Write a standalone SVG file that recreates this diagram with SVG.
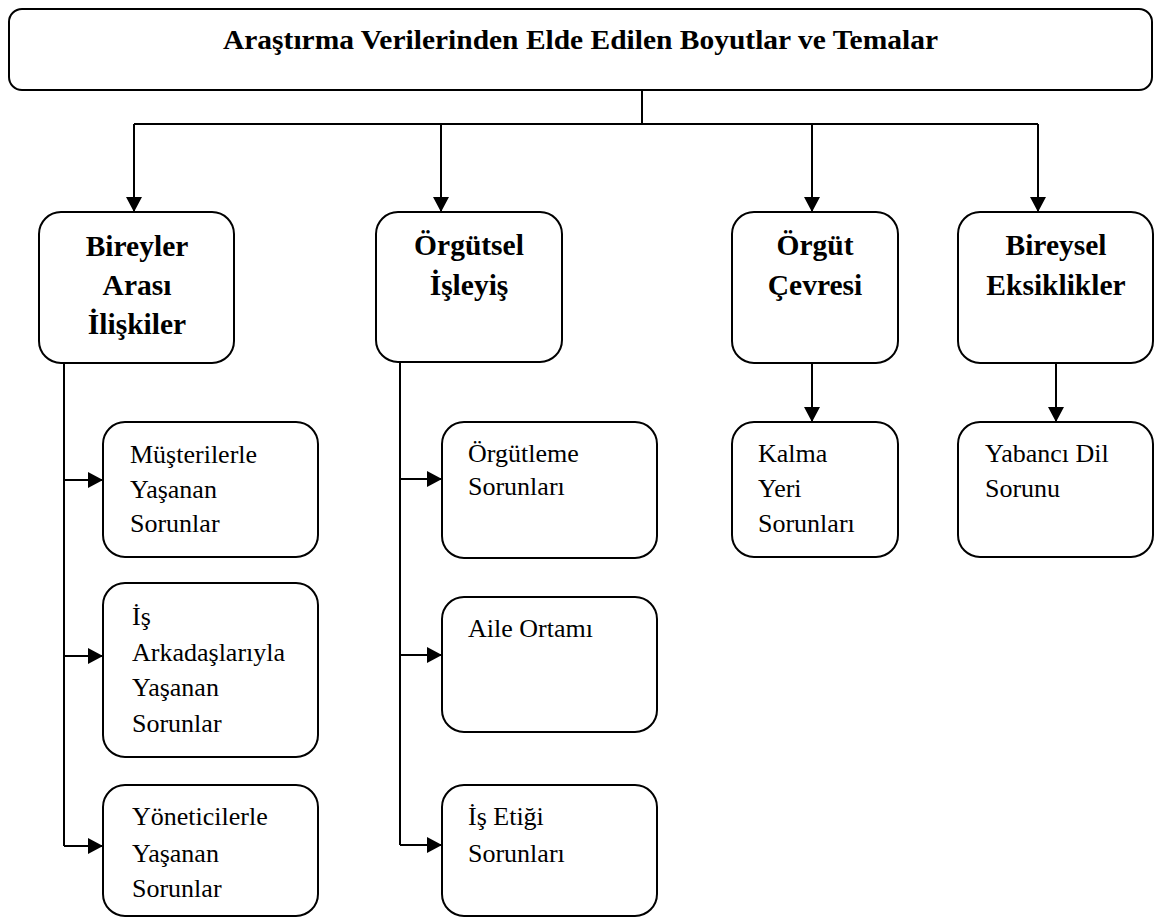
<svg xmlns="http://www.w3.org/2000/svg" width="1156" height="918" viewBox="0 0 1156 918">
  <style>
    .box { fill: #ffffff; stroke: #000000; stroke-width: 2; }
    .wire { fill: none; stroke: #000000; stroke-width: 2; }
    .title { font-weight: bold; font-size: 28px; }
    .head { font-weight: bold; font-size: 29.5px; text-anchor: middle; }
    .item { font-size: 26px; }
  </style>
  <defs>
    <marker id="arrow" markerUnits="userSpaceOnUse" markerWidth="15" markerHeight="16" refX="15" refY="8" orient="auto">
      <path d="M0,0 L15,8 L0,16 Z" fill="#000"/>
    </marker>
  </defs>
  <rect width="1156" height="918" fill="#ffffff"/>

  <!-- connectors -->
  <g id="connectors" class="wire">
    <path d="M642,90 V124"/>
    <path d="M134,124 H1038"/>
    <path d="M134,124 V212" marker-end="url(#arrow)"/>
    <path d="M441,124 V212" marker-end="url(#arrow)"/>
    <path d="M812,124 V212" marker-end="url(#arrow)"/>
    <path d="M1038,124 V212" marker-end="url(#arrow)"/>

    <path d="M64,363 V846"/>
    <path d="M64,480 H103" marker-end="url(#arrow)"/>
    <path d="M64,656 H103" marker-end="url(#arrow)"/>
    <path d="M64,846 H103" marker-end="url(#arrow)"/>

    <path d="M400,362 V845"/>
    <path d="M400,479 H442" marker-end="url(#arrow)"/>
    <path d="M400,655 H442" marker-end="url(#arrow)"/>
    <path d="M400,845 H442" marker-end="url(#arrow)"/>

    <path d="M812,363 V422" marker-end="url(#arrow)"/>
    <path d="M1056,363 V422" marker-end="url(#arrow)"/>
  </g>

  <g font-family="Liberation Serif, Times New Roman, serif" fill="#000">
  <!-- root -->
  <g id="root">
    <rect class="box" x="9" y="9" width="1143" height="81" rx="13"/>
    <text class="title" x="223" y="49" textLength="715" lengthAdjust="spacingAndGlyphs">Araştırma Verilerinden Elde Edilen Boyutlar ve Temalar</text>
  </g>

  <!-- dimensions -->
  <g id="dim-bireyler-arasi">
    <rect class="box" x="39" y="212" width="195" height="151" rx="22"/>
    <text class="head" x="137" y="256">Bireyler</text>
    <text class="head" x="137" y="295">Arası</text>
    <text class="head" x="137" y="334">İlişkiler</text>
  </g>
  <g id="dim-orgutsel-isleyis">
    <rect class="box" x="376" y="212" width="186" height="150" rx="22"/>
    <text class="head" x="469" y="255">Örgütsel</text>
    <text class="head" x="469" y="295">İşleyiş</text>
  </g>
  <g id="dim-orgut-cevresi">
    <rect class="box" x="732" y="212" width="166" height="151" rx="22"/>
    <text class="head" x="815" y="255">Örgüt</text>
    <text class="head" x="815" y="295">Çevresi</text>
  </g>
  <g id="dim-bireysel-eksiklikler">
    <rect class="box" x="958" y="212" width="195" height="151" rx="22"/>
    <text class="head" x="1056" y="255">Bireysel</text>
    <text class="head" x="1056" y="295">Eksiklikler</text>
  </g>

  <!-- themes -->
  <g id="theme-musteriler">
    <rect class="box" x="103" y="422" width="215" height="135" rx="22"/>
    <text class="item" x="130" y="463">Müşterilerle</text>
    <text class="item" x="130" y="498">Yaşanan</text>
    <text class="item" x="130" y="532">Sorunlar</text>
  </g>
  <g id="theme-is-arkadaslari">
    <rect class="box" x="103" y="583" width="215" height="174" rx="22"/>
    <text class="item" x="132" y="625">İş</text>
    <text class="item" x="132" y="661">Arkadaşlarıyla</text>
    <text class="item" x="132" y="696">Yaşanan</text>
    <text class="item" x="132" y="732">Sorunlar</text>
  </g>
  <g id="theme-yoneticiler">
    <rect class="box" x="103" y="785" width="215" height="131" rx="22"/>
    <text class="item" x="132" y="825">Yöneticilerle</text>
    <text class="item" x="132" y="862">Yaşanan</text>
    <text class="item" x="132" y="897">Sorunlar</text>
  </g>
  <g id="theme-orgutleme">
    <rect class="box" x="442" y="422" width="215" height="136" rx="22"/>
    <text class="item" x="468" y="462">Örgütleme</text>
    <text class="item" x="468" y="495">Sorunları</text>
  </g>
  <g id="theme-aile-ortami">
    <rect class="box" x="442" y="597" width="215" height="135" rx="22"/>
    <text class="item" x="468" y="637">Aile Ortamı</text>
  </g>
  <g id="theme-is-etigi">
    <rect class="box" x="442" y="785" width="215" height="131" rx="22"/>
    <text class="item" x="468" y="825">İş Etiği</text>
    <text class="item" x="468" y="862">Sorunları</text>
  </g>
  <g id="theme-kalma-yeri">
    <rect class="box" x="732" y="422" width="166" height="135" rx="22"/>
    <text class="item" x="758" y="462">Kalma</text>
    <text class="item" x="758" y="497">Yeri</text>
    <text class="item" x="758" y="532">Sorunları</text>
  </g>
  <g id="theme-yabanci-dil">
    <rect class="box" x="958" y="422" width="195" height="135" rx="22"/>
    <text class="item" x="985" y="462">Yabancı Dil</text>
    <text class="item" x="985" y="497">Sorunu</text>
  </g>
  </g>
</svg>
